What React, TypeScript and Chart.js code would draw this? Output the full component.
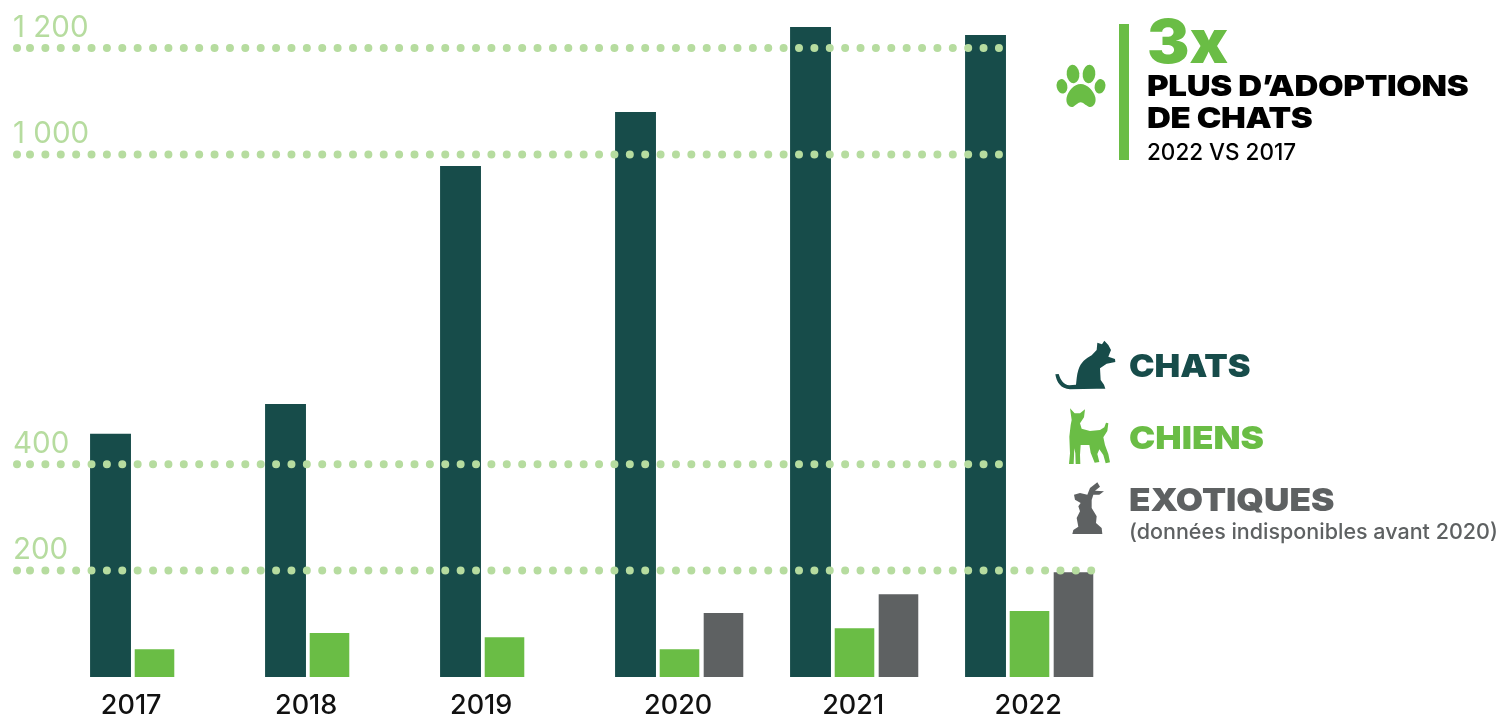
import React, { useEffect, useRef } from "react";
import { Chart, registerables } from "chart.js";

Chart.register(...registerables);

const years = ["2017", "2018", "2019", "2020", "2021", "2022"];
const chats = [464, 521, 975, 1078, 1240, 1225];
const chiens = [53, 84, 76, 53, 93, 126];
const exotiques = [null, null, null, 122, 158, 200];
// The source picture's axis is slightly non-linear: these are the heights at which its dotted lines sit.
const gridValues = [203, 406, 997, 1200];
const gridLabels = ["200", "400", "1 000", "1 200"];

const DARK = "#174c4a";
const GREEN = "#6abd45";
const GREY = "#5e6162";
const PALE = "#b6dc9f";
const FONT = "Inter, sans-serif";

const dottedLines = {
  id: "dottedLines",
  afterDatasetsDraw(chart: any) {
    const { ctx, scales } = chart;
    const yScale = scales.y;
    const metas = chart.data.datasets.map((_: any, i: number) => chart.getDatasetMeta(i));
    ctx.save();
    ctx.strokeStyle = PALE;
    ctx.fillStyle = PALE;
    ctx.lineWidth = 8;
    ctx.lineCap = "round";
    ctx.setLineDash([0, 15.38]);
    gridValues.forEach((v) => {
      const y = yScale.getPixelForValue(v);
      let end = 0;
      metas.forEach((m: any) =>
        m.data.forEach((b: any) => {
          if (!b.skip && b.y <= y + 3) end = Math.max(end, b.x + b.width / 2);
        })
      );
      ctx.beginPath();
      ctx.arc(17, y, 4, 0, Math.PI * 2);
      ctx.fill();
      ctx.beginPath();
      ctx.moveTo(30, y);
      ctx.lineTo(end, y);
      ctx.stroke();
    });
    ctx.restore();
  },
};

const yearLabels = {
  id: "yearLabels",
  afterDraw(chart: any) {
    const { ctx } = chart;
    const metas = chart.data.datasets.map((_: any, i: number) => chart.getDatasetMeta(i));
    ctx.save();
    ctx.fillStyle = "#111";
    ctx.font = `500 27px ${FONT}`;
    ctx.textAlign = "center";
    ctx.textBaseline = "middle";
    years.forEach((label, i) => {
      let lo = Infinity;
      let hi = -Infinity;
      metas.forEach((m: any, d: number) => {
        const b = m.data[i];
        if (chart.data.datasets[d].data[i] != null) {
          lo = Math.min(lo, b.x - b.width / 2);
          hi = Math.max(hi, b.x + b.width / 2);
        }
      });
      ctx.fillText(label, (lo + hi) / 2 - 1, 706);
    });
    ctx.restore();
  },
};

const abs = (left: number, top: number, extra: React.CSSProperties): React.CSSProperties => ({
  position: "absolute",
  left,
  top,
  whiteSpace: "nowrap",
  fontFamily: FONT,
  lineHeight: 1,
  transformOrigin: "left center",
  ...extra,
});

function Paw() {
  return (
    <svg style={{ position: "absolute", left: 1050, top: 60 }} width="64" height="54" viewBox="0 0 192 162" fill={GREEN}>
      <ellipse cx="36" cy="79" rx="16" ry="22" transform="rotate(-12 36 79)" />
      <ellipse cx="69" cy="42" rx="19" ry="28" transform="rotate(-6 69 42)" />
      <ellipse cx="117" cy="42" rx="19" ry="28" transform="rotate(6 117 42)" />
      <ellipse cx="150" cy="79" rx="16" ry="22" transform="rotate(12 150 79)" />
      <path d="M92 72C72 72 55 92 50 112C46 132 58 144 70 140C78 136 84 127 92 127C100 127 106 136 116 140C128 144 140 132 136 112C131 92 112 72 92 72Z" />
    </svg>
  );
}

function Animals() {
  return (
    <svg style={{ position: "absolute", left: 1040, top: 330 }} width="459" height="220" viewBox="0 0 1377 660">
      <path
        fill={DARK}
        d="M46 133C50 158 62 176 90 178L170 176L196 176L192 164L182 150L180 115L200 101L226 96L225 87L205 80L213 60L205 45L193 32L186 43L172 38L170 60L155 76C138 86 122 96 115 120C110 135 110 150 108 164L88 166C72 164 62 152 56 132Z"
      />
      <path
        fill={GREEN}
        d="M90 235L104 250L120 250L135 238L132 262L120 280L125 296L150 303L180 300L193 292L198 278L205 280L202 303L190 322L195 345L205 372L210 397L197 400L190 375L178 358L172 372L178 396L164 398L152 368L148 345L122 345L120 375L121 402L107 402L106 370L103 355L101 402L87 402L90 370L88 320L92 285L95 270Z"
      />
      <path
        fill={GREY}
        d="M172 457L180 470L165 482L192 484L178 494L160 494L155 510L155 534L170 559L168 579L185 594L187 612L97 612L100 600L115 590L110 564L120 544L115 529L122 519L105 509L102 494L120 489L142 494L150 474Z"
      />
    </svg>
  );
}

export default function App() {
  const ref = useRef<HTMLCanvasElement>(null);
  useEffect(() => {
    document.body.style.margin = "0";
    document.body.style.background = "#fff";
    const chart = new Chart(ref.current!, {
      type: "bar",
      data: {
        labels: years,
        datasets: [
          { label: "Chats", data: chats, backgroundColor: DARK, barPercentage: 0.93 },
          { label: "Chiens", data: chiens, backgroundColor: GREEN, barPercentage: 0.9 },
          { label: "Exotiques", data: exotiques, backgroundColor: GREY, barPercentage: 0.9 },
        ],
      },
      options: {
        responsive: false,
        animation: false,
        maintainAspectRatio: false,
        events: [],
        layout: { padding: { left: 13, right: 382, top: 0, bottom: 40 } },
        datasets: { bar: { categoryPercentage: 0.754 } },
        plugins: { legend: { display: false }, tooltip: { enabled: false } },
        scales: {
          x: { display: false, grid: { display: false } },
          y: {
            min: 0,
            max: 1291.6,
            grid: { display: false },
            border: { display: false },
            afterFit(s: any) {
              s.width = 54;
              s.paddingTop = 0;
              s.paddingBottom = 0;
            },
            afterBuildTicks(s: any) {
              s.ticks = gridValues.map((value) => ({ value }));
            },
            ticks: {
              mirror: true,
              crossAlign: "near",
              labelOffset: -20,
              padding: -54,
              color: PALE,
              font: { family: FONT, size: 29.5, weight: "400" },
              callback: (v: any) => gridLabels[gridValues.indexOf(v)],
            },
          },
        },
      },
      plugins: [dottedLines, yearLabels],
    } as any);
    return () => chart.destroy();
  }, []);

  return (
    <div style={{ position: "relative", width: 1499, height: 717, overflow: "hidden", background: "#fff" }}>
      <canvas ref={ref} width={1499} height={717} style={{ position: "absolute", left: 0, top: 0, display: "block" }} />
      <Paw />
      <div style={{ position: "absolute", left: 1119, top: 24, width: 10, height: 136, background: GREEN }} />
      <div style={abs(1147, 11, { color: GREEN, fontSize: 60, fontWeight: 900, transform: "scaleX(1.06)" })}>3x</div>
      <div style={abs(1147, 71, { color: "#000", fontSize: 29, fontWeight: 900, transform: "scaleX(1.14)", letterSpacing: -0.3 })}>PLUS D’ADOPTIONS</div>
      <div style={abs(1147, 103, { color: "#000", fontSize: 29, fontWeight: 900, transform: "scaleX(1.14)", letterSpacing: -0.3 })}>DE CHATS</div>
      <div style={abs(1147, 141, { color: "#000", fontSize: 22.5, fontWeight: 500 })}>2022 VS 2017</div>
      <Animals />
      <div style={abs(1129, 350, { color: DARK, fontSize: 32, fontWeight: 900, transform: "scaleX(1.07)" })}>CHATS</div>
      <div style={abs(1129, 422, { color: GREEN, fontSize: 32, fontWeight: 900, transform: "scaleX(1.1)" })}>CHIENS</div>
      <div style={abs(1129, 484, { color: GREY, fontSize: 32, fontWeight: 900, transform: "scaleX(1.1)" })}>EXOTIQUES</div>
      <div style={abs(1129, 521, { color: GREY, fontSize: 21.5, fontWeight: 500 })}>(données indisponibles avant 2020)</div>
    </div>
  );
}
